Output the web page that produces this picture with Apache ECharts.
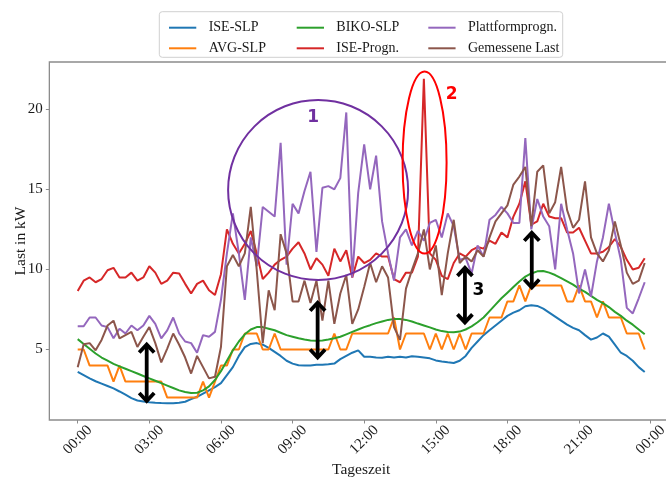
<!DOCTYPE html>
<html>
<head>
<meta charset="utf-8">
<script src="https://cdn.jsdelivr.net/npm/echarts@6/dist/echarts.min.js"></script>
<style>
  html, body { margin: 0; padding: 0; background: #ffffff; }
  #chart { width: 666px; height: 483px; }
</style>
</head>
<body>
<div id="chart"></div>
<script>
// Quarter-hour time stamps in hours (00:00 ... 23:45)
const times = Array.from({ length: 96 }, (_, i) => i * 0.25);

// x tick positions (hours) and y tick values
const hourTicks = [0, 3, 6, 9, 12, 15, 18, 21, 24];
const loadTicks = [5, 10, 15, 20];

// Load profiles in kW, one value per quarter hour
const iseSlp = [
  3.60, 3.40, 3.20, 3.02, 2.87, 2.72, 2.57, 2.38, 2.18, 1.97, 1.82, 1.75,
  1.71, 1.68, 1.66, 1.65, 1.65, 1.68, 1.74, 1.90, 2.05, 2.25, 2.45, 2.65,
  2.90, 3.40, 3.90, 4.60, 5.15, 5.35, 5.40, 5.30, 5.10, 4.85, 4.60, 4.30,
  4.12, 4.02, 4.00, 4.00, 4.05, 4.05, 4.08, 4.12, 4.40, 4.60, 4.80, 4.95,
  4.55, 4.55, 4.50, 4.48, 4.55, 4.50, 4.55, 4.50, 4.58, 4.55, 4.50, 4.45,
  4.32, 4.25, 4.20, 4.16, 4.30, 4.60, 5.10, 5.50, 5.90, 6.20, 6.50, 6.80,
  7.10, 7.30, 7.45, 7.70, 7.77, 7.72, 7.55, 7.30, 7.05, 6.80, 6.55, 6.35,
  6.20, 5.90, 5.62, 5.75, 6.00, 5.80, 5.30, 4.80, 4.60, 4.30, 3.90, 3.60
];
const avgSlp = [
  5, 5, 4, 4, 4, 4, 3, 4, 3, 3, 3, 3,
  3, 3, 3, 2, 2, 2, 2, 2, 2, 3, 2, 3,
  4, 4, 5, 5, 6, 6, 6, 5, 5, 6, 5, 5,
  5, 5, 5, 5, 5, 5, 5, 6, 5, 5, 6, 6,
  6, 6, 6, 6, 6, 7, 5, 6, 6, 6, 6, 5,
  6, 5, 6, 5, 6, 5, 6, 6, 6, 7, 7, 7,
  8, 8, 9, 8, 9, 9, 9, 9, 9, 9, 8, 8,
  9, 8, 8, 7, 8, 7, 7, 7, 6, 6, 6, 5
];
const bikoSlp = [
  5.65, 5.35, 5.05, 4.75, 4.50, 4.30, 4.10, 3.95, 3.80, 3.65, 3.50, 3.35,
  3.20, 3.05, 2.90, 2.75, 2.60, 2.45, 2.35, 2.28, 2.30, 2.45, 2.70, 3.10,
  3.65, 4.30, 4.95, 5.50, 5.95, 6.25, 6.40, 6.40, 6.30, 6.20, 6.05, 5.90,
  5.80, 5.70, 5.62, 5.57, 5.55, 5.57, 5.62, 5.70, 5.80, 5.95, 6.10, 6.25,
  6.40, 6.52, 6.65, 6.75, 6.85, 6.90, 6.90, 6.85, 6.75, 6.62, 6.50, 6.38,
  6.25, 6.15, 6.10, 6.08, 6.12, 6.25, 6.45, 6.70, 7.00, 7.40, 7.80, 8.20,
  8.55, 8.90, 9.25, 9.55, 9.75, 9.88, 9.90, 9.80, 9.65, 9.45, 9.25, 9.05,
  8.80, 8.60, 8.35, 8.10, 7.90, 7.65, 7.35, 7.10, 6.80, 6.55, 6.25, 5.95
];
const iseProgn = [
  8.65, 9.30, 9.50, 9.20, 9.40, 9.95, 10.1, 9.50, 9.50, 9.80, 9.30, 9.50,
  10.2, 9.80, 9.10, 9.30, 9.80, 9.75, 9.10, 8.50, 9.10, 9.30, 8.70, 8.40,
  9.70, 12.5, 11.6, 11.0, 11.6, 12.4, 11.0, 9.40, 9.80, 10.3, 10.6, 10.8,
  11.3, 11.7, 11.0, 10.0, 10.7, 10.3, 9.60, 11.3, 10.5, 11.2, 9.50, 10.8,
  10.4, 10.6, 11.0, 10.8, 10.8, 9.40, 9.20, 9.80, 9.80, 10.8, 21.9, 11.0,
  10.6, 9.60, 9.40, 10.4, 11.0, 10.8, 11.2, 11.4, 11.3, 11.8, 11.6, 12.3,
  12.0, 13.3, 14.1, 15.5, 12.8, 13.0, 14.1, 13.3, 13.2, 13.2, 12.3, 12.3,
  12.6, 11.8, 11.0, 11.0, 11.1, 11.4, 11.9, 11.4, 10.6, 10.0, 10.1, 10.7
];
const plattform = [
  6.45, 6.45, 7.00, 7.00, 6.50, 6.40, 5.70, 6.30, 6.00, 6.50, 6.20, 6.50,
  7.10, 6.60, 5.70, 6.20, 7.00, 6.00, 5.50, 5.40, 4.80, 5.90, 5.80, 6.10,
  8.10, 11.0, 13.5, 11.0, 8.10, 12.0, 10.2, 13.9, 13.6, 13.3, 17.9, 10.3,
  14.1, 13.5, 14.9, 16.1, 11.1, 15.1, 15.2, 15.0, 15.7, 19.8, 9.50, 14.8,
  17.8, 15.0, 17.1, 13.0, 11.0, 9.30, 12.0, 12.5, 11.5, 12.4, 11.8, 12.9,
  13.1, 12.0, 13.5, 12.7, 10.6, 10.7, 9.75, 11.5, 10.8, 13.1, 13.4, 13.9,
  13.5, 12.9, 12.9, 18.2, 12.5, 14.4, 13.3, 12.7, 10.0, 14.1, 12.5, 11.0,
  8.50, 10.0, 8.30, 10.5, 12.0, 14.1, 12.3, 10.6, 7.60, 7.25, 8.20, 9.20
];
const gemessen = [
  3.90, 5.33, 5.40, 4.95, 5.60, 6.50, 6.80, 5.70, 5.90, 6.10, 5.16, 5.80,
  6.40, 5.40, 4.20, 5.06, 6.00, 5.30, 4.50, 3.50, 4.60, 3.90, 3.20, 3.30,
  5.16, 10.2, 10.9, 10.2, 11.0, 13.9, 9.95, 5.40, 8.70, 7.45, 12.2, 11.0,
  8.00, 8.00, 9.30, 7.90, 9.30, 6.80, 9.30, 6.60, 8.50, 9.65, 6.60, 7.50,
  8.90, 10.4, 9.20, 10.2, 9.50, 6.40, 5.60, 8.80, 9.96, 11.0, 12.5, 10.0,
  11.5, 8.40, 11.0, 13.1, 10.4, 10.8, 10.5, 11.2, 10.8, 12.0, 13.0, 13.5,
  14.0, 15.3, 15.8, 16.4, 12.7, 16.1, 16.5, 13.5, 14.2, 16.4, 13.7, 12.6,
  13.1, 15.5, 12.0, 11.0, 10.5, 11.2, 13.0, 11.5, 9.80, 9.10, 9.30, 10.4
];

const seriesDefs = [
  { name: 'ISE-SLP',         data: iseSlp,    color: '#1f77b4' },
  { name: 'AVG-SLP',         data: avgSlp,    color: '#ff7f0e' },
  { name: 'BIKO-SLP',        data: bikoSlp,   color: '#2ca02c' },
  { name: 'ISE-Progn.',      data: iseProgn,  color: '#d62728' },
  { name: 'Plattformprogn.', data: plattform, color: '#9467bd' },
  { name: 'Gemessene Last',  data: gemessen,  color: '#8c564b' }
];

const serif = '"Liberation Serif", "Times New Roman", serif';
const textColor = '#1a1a1a';
const frameColor = '#8c8c8c';

const chart = echarts.init(document.getElementById('chart'), null, { renderer: 'canvas' });

function legendColumn(names, left) {
  return {
    data: names,
    orient: 'vertical',
    left: left,
    top: 14.7,
    itemGap: 4.6,
    itemWidth: 30,
    itemHeight: 2,
    icon: 'path://M0,0H30V2.2H0Z',
    selectedMode: false,
    z: 10,
    textStyle: {
      fontFamily: serif, fontSize: 14, color: textColor,
      lineHeight: 16, padding: [0, 0, 0, 6]
    }
  };
}

const pad2 = n => (n < 10 ? '0' : '') + n;

chart.setOption({
  animation: false,
  backgroundColor: '#ffffff',
  grid: {
    left: 49.35, top: 62, width: 623.7, height: 358,
    containLabel: false,
    outerBoundsMode: 'none',
    show: true, borderColor: frameColor, borderWidth: 1.3,
    backgroundColor: 'transparent'
  },
  legend: [
    legendColumn(['ISE-SLP', 'AVG-SLP'], 164),
    legendColumn(['BIKO-SLP', 'ISE-Progn.'], 291.7),
    legendColumn(['Plattformprogn.', 'Gemessene Last'], 423.3)
  ],
  xAxis: {
    type: 'value',
    min: -1.1875,
    max: 24.9375,
    name: 'Tageszeit',
    nameLocation: 'middle',
    nameGap: 42,
    nameMoveOverlap: false,
    nameTextStyle: { fontFamily: serif, fontSize: 15.5, color: textColor },
    axisLine: { show: false, onZero: false },
    splitLine: { show: false },
    axisTick: {
      show: true, customValues: hourTicks, length: 3.5,
      lineStyle: { color: frameColor, width: 1 }
    },
    axisLabel: {
      customValues: hourTicks,
      formatter: v => pad2(Math.round(v) % 24) + ':00',
      rotate: 45, align: 'center', verticalAlign: 'middle', margin: 20,
      fontFamily: serif, fontSize: 15, color: textColor
    }
  },
  yAxis: {
    type: 'value',
    min: 0.6,
    max: 22.95,
    name: 'Last in kW',
    nameLocation: 'middle',
    nameGap: 20,
    nameRotate: 90,
    nameMoveOverlap: false,
    nameTextStyle: { fontFamily: serif, fontSize: 15.5, color: textColor },
    axisLine: { show: false, onZero: false },
    splitLine: { show: false },
    axisTick: {
      show: true, customValues: loadTicks, length: 3.5,
      lineStyle: { color: frameColor, width: 1 }
    },
    axisLabel: {
      customValues: loadTicks, margin: 6.7,
      fontFamily: serif, fontSize: 15, color: textColor
    }
  },
  series: seriesDefs.map(s => ({
    name: s.name,
    type: 'line',
    data: s.data.map((v, i) => [times[i], v]),
    showSymbol: false,
    symbol: 'none',
    color: s.color,
    lineStyle: { color: s.color, width: 2 },
    itemStyle: { color: s.color },
    emphasis: { disabled: true }
  }))
});

// Annotations placed in data coordinates
const px = (h, v) => chart.convertToPixel({ gridIndex: 0 }, [h, v]);

function doubleArrow(h, vTop, vBottom) {
  const top = px(h, vTop), bottom = px(h, vBottom);
  const x = top[0], y1 = top[1], y2 = bottom[1];
  const hw = 7.5, hh = 9;
  const st = { stroke: '#000000', lineWidth: 3.8, fill: null, lineJoin: 'miter', lineCap: 'butt' };
  return [
    { type: 'line', z: 50, shape: { x1: x, y1: y1 + 1.5, x2: x, y2: y2 - 1.5 }, style: st },
    { type: 'polyline', z: 50, shape: { points: [[x - hw, y1 + hh], [x, y1 + 1], [x + hw, y1 + hh]] }, style: st },
    { type: 'polyline', z: 50, shape: { points: [[x - hw, y2 - hh], [x, y2 - 1], [x + hw, y2 - hh]] }, style: st }
  ];
}

const c1 = px(10.07, 14.96);
const c2 = px(14.53, 16.67);
const l1 = px(9.86, 19.5);
const l2 = px(15.66, 20.9);
const l3 = px(16.78, 8.7);
const markFont = 'bold 17px "DejaVu Sans", "Liberation Sans", sans-serif';

const graphics = [
  {
    type: 'rect', z: 1,
    shape: { x: 159.3, y: 11.7, width: 403.4, height: 45.6, r: 3 },
    style: { fill: '#ffffff', stroke: '#d0d0d0', lineWidth: 1 }
  },
  {
    type: 'circle', z: 40,
    shape: { cx: c1[0], cy: c1[1], r: 90 },
    style: { fill: null, stroke: '#7030a0', lineWidth: 2 }
  },
  {
    type: 'ellipse', z: 40,
    shape: { cx: c2[0], cy: c2[1], rx: 22, ry: 91 },
    style: { fill: null, stroke: '#ff0000', lineWidth: 2 }
  },
  { type: 'text', z: 50, x: l1[0], y: l1[1],
    style: { text: '1', font: markFont, fill: '#7030a0', align: 'center', verticalAlign: 'middle' } },
  { type: 'text', z: 50, x: l2[0], y: l2[1],
    style: { text: '2', font: markFont, fill: '#ff0000', align: 'center', verticalAlign: 'middle' } },
  { type: 'text', z: 50, x: l3[0], y: l3[1],
    style: { text: '3', font: markFont, fill: '#000000', align: 'center', verticalAlign: 'middle' } }
]
  .concat(doubleArrow(2.89, 5.375, 1.725))
  .concat(doubleArrow(10.05, 7.98, 4.44))
  .concat(doubleArrow(16.22, 10.16, 6.63))
  .concat(doubleArrow(19.02, 12.35, 8.81));

chart.setOption({ graphic: graphics });
</script>
</body>
</html>
